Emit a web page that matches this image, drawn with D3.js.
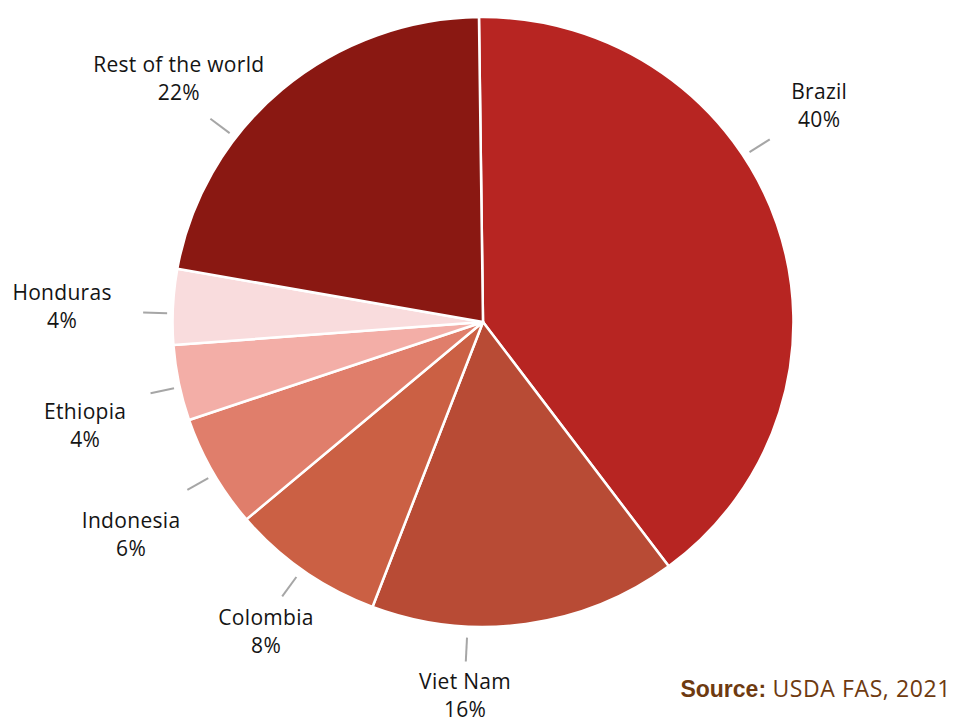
<!DOCTYPE html>
<html>
<head>
<meta charset="utf-8">
<script src="https://cdn.jsdelivr.net/npm/d3@7"></script>
<style>
  html, body { margin: 0; padding: 0; background: #fff; }
  svg { display: block; }
</style>
</head>
<body>
<svg id="chart" width="954" height="720"></svg>
<script>
// Share of world coffee production, by country (%)
const countries = ["Brazil", "Viet Nam", "Colombia", "Indonesia", "Ethiopia", "Honduras", "Rest of the world"];
const shares = [40, 16, 8, 6, 4, 4, 22];
const colors = ["#B72522", "#B84B35", "#CB6044", "#E07E6B", "#F3AEA7", "#F9DCDD", "#8A1812"];

// Label placement: angle (degrees clockwise from 12 o'clock) and distance from centre
const leaderAngles = [57.5, 182.9, 216.2, 240.4, 257.9, 271.6, 306.7];
const labelAngles = [58.1, 182.7, 214.4, 238.0, 254.4, 271.1, 307.8];
const labelRadii = [396, 381, 384, 415, 413, 421, 385];

const svg = d3.select("#chart");
const cx = 483, cy = 322, radius = 308;
const sx = 1.008, sy = 0.99;   // pie is drawn very slightly wider than tall
const start = -0.013;

const rows = countries.map((c, i) => ({ name: c, value: shares[i], color: colors[i] }));

const pie = d3.pie()
  .value(d => d.value)
  .sort(null)
  .startAngle(start)
  .endAngle(start + 2 * Math.PI);

const arc = d3.arc().innerRadius(0).outerRadius(radius);

const g = svg.append("g").attr("transform", `translate(${cx},${cy})`);

g.append("g")
  .attr("transform", `scale(${sx},${sy})`)
  .selectAll("path.slice")
  .data(pie(rows))
  .join("path")
  .attr("class", "slice")
  .attr("d", arc)
  .attr("fill", d => d.data.color)
  .attr("stroke", "#fff")
  .attr("stroke-width", 2.5)
  .attr("stroke-linejoin", "round");

const polar = (deg, r) => {
  const a = deg * Math.PI / 180;
  return [Math.sin(a) * r, -Math.cos(a) * r];
};

// Leader lines
g.selectAll("line.leader")
  .data(rows)
  .join("line")
  .attr("class", "leader")
  .attr("x1", (d, i) => polar(leaderAngles[i], radius + 8)[0])
  .attr("y1", (d, i) => polar(leaderAngles[i], radius + 8)[1])
  .attr("x2", (d, i) => polar(leaderAngles[i], radius + 32)[0])
  .attr("y2", (d, i) => polar(leaderAngles[i], radius + 32)[1])
  .attr("stroke", "#A6A6A6")
  .attr("stroke-width", 2);

// Category name and percentage labels
const labels = g.selectAll("g.label")
  .data(rows)
  .join("g")
  .attr("class", "label")
  .attr("transform", (d, i) => {
    const p = polar(labelAngles[i], labelRadii[i]);
    return `translate(${p[0]},${p[1]})`;
  })
  .style("font-family", "'Open Sans', 'DejaVu Sans', sans-serif")
  .style("font-size", "21px")
  .style("letter-spacing", "0.3px")
  .attr("fill", "#141414")
  .attr("text-anchor", "middle");

labels.append("text").attr("y", -14).text(d => d.name);
labels.append("text").attr("y", 14).text(d => d.value + "%");

// Source note
const src = svg.append("text")
  .attr("x", 951)
  .attr("y", 697)
  .attr("text-anchor", "end")
  .attr("fill", "#6E3A10");
src.append("tspan")
  .style("font-family", "'Liberation Sans Narrow', 'Arial Narrow', sans-serif")
  .style("font-weight", "bold")
  .style("font-size", "23px")
  .text("Source: ");
src.append("tspan")
  .style("font-family", "'Open Sans', sans-serif")
  .style("font-size", "23px")
  .style("letter-spacing", "0.6px")
  .text("USDA FAS, 2021");
</script>
</body>
</html>
